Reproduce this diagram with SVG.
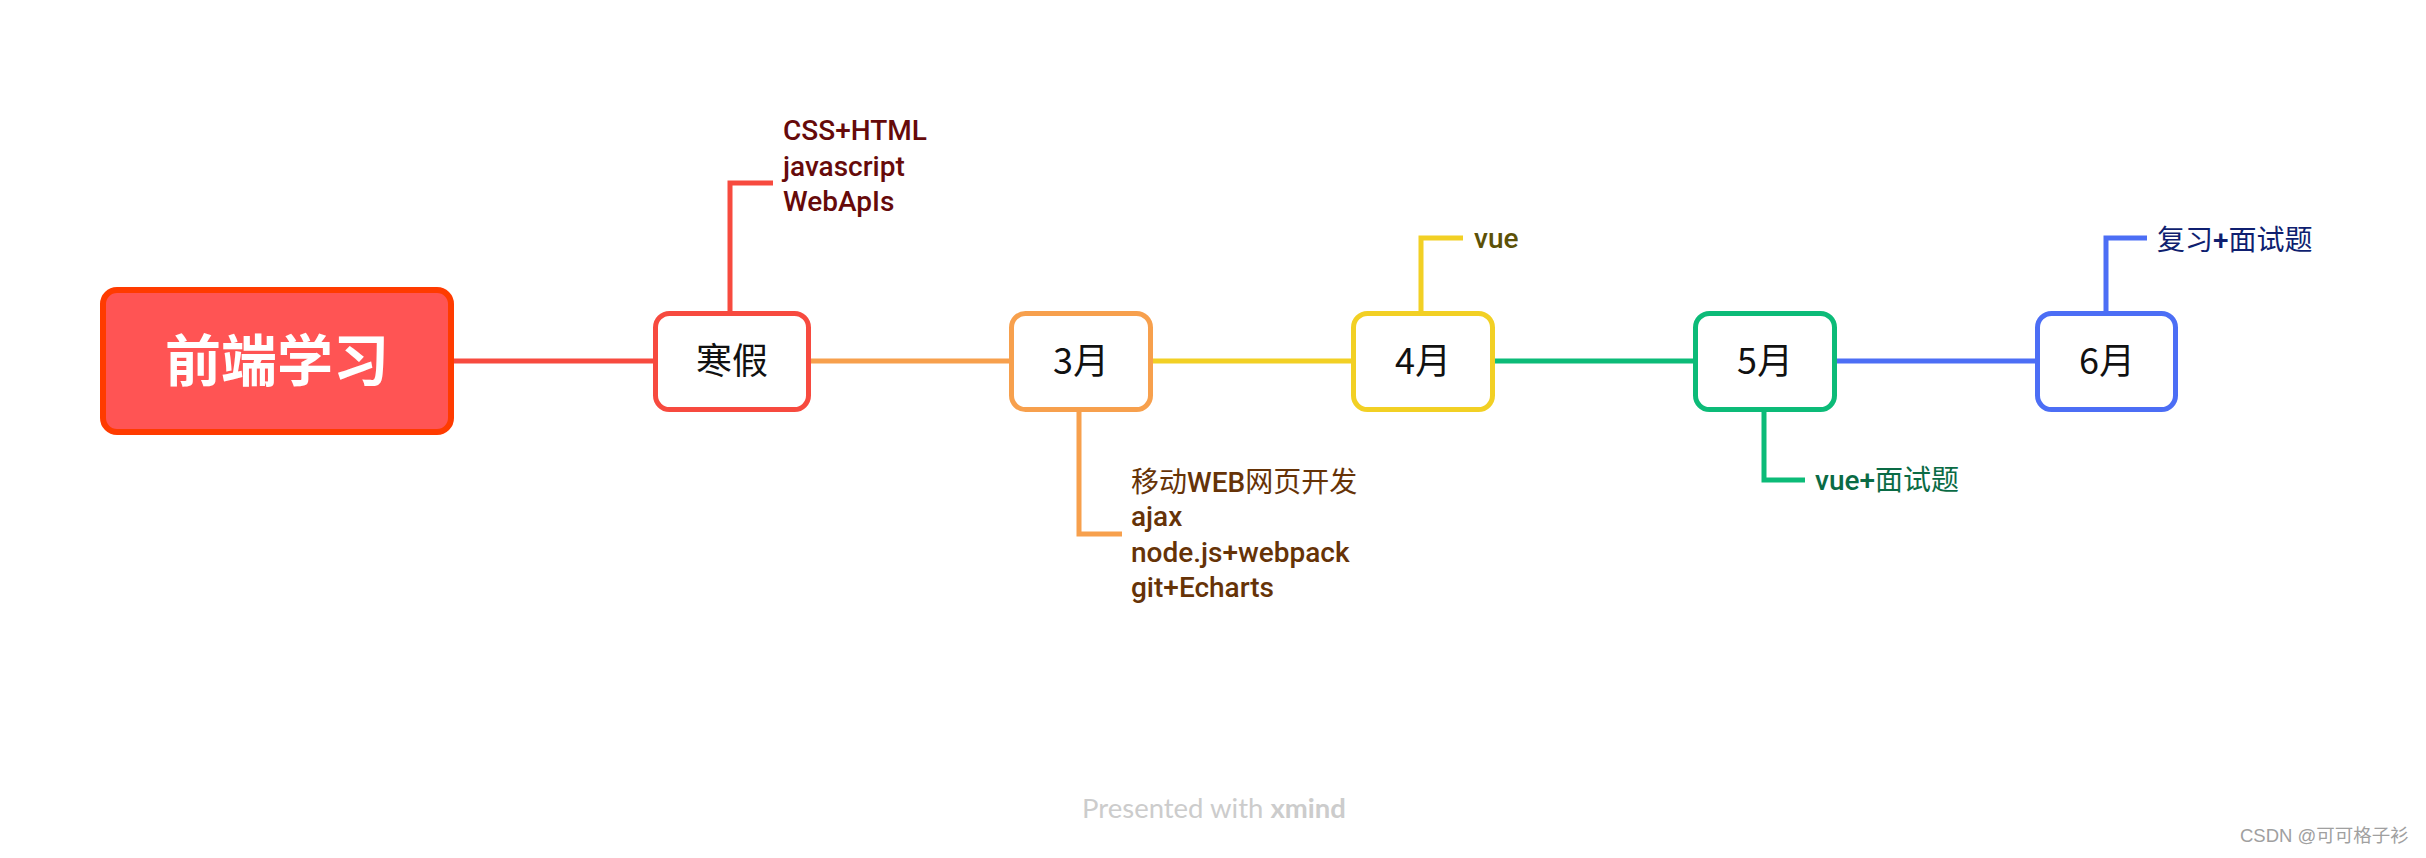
<svg xmlns="http://www.w3.org/2000/svg" width="2426" height="858" viewBox="0 0 2426 858">
<style>
.node{fill:#ffffff;stroke-width:5}
.lbl{font-family:"Noto Sans CJK SC","Roboto",sans-serif;font-size:36px;fill:#111111;text-anchor:middle}
.br{font-family:"Roboto","Noto Sans CJK SC",sans-serif;font-size:28px;font-weight:500}
.cjk{font-weight:400}
.ln{fill:none;stroke-width:5;stroke-linejoin:miter}
</style>
<rect width="2426" height="858" fill="#ffffff"/>
<g id="connectors">
<line class="ln" x1="452" y1="361" x2="655" y2="361" stroke="#F74A3F"/>
<line class="ln" x1="809" y1="361" x2="1011" y2="361" stroke="#F7A04D"/>
<line class="ln" x1="1151" y1="361" x2="1353" y2="361" stroke="#F2D024"/>
<line class="ln" x1="1493" y1="361" x2="1695" y2="361" stroke="#0CBB78"/>
<line class="ln" x1="1835" y1="361" x2="2037" y2="361" stroke="#4C6EF5"/>
<polyline class="ln" points="730,312 730,183 773,183" stroke="#F74A3F"/>
<polyline class="ln" points="1079,411 1079,534 1122,534" stroke="#F7A04D"/>
<polyline class="ln" points="1421,312 1421,238 1463,238" stroke="#F2D024"/>
<polyline class="ln" points="1764,411 1764,480 1805,480" stroke="#0CBB78"/>
<polyline class="ln" points="2106,312 2106,238 2147,238" stroke="#4C6EF5"/>
</g>
<g id="root">
<rect x="103" y="290" width="348" height="142" rx="14" fill="#FF5454" stroke="#FF3B00" stroke-width="6"/>
<text x="277" y="381" font-family="Noto Sans CJK SC,sans-serif" font-size="56" font-weight="700" fill="#ffffff" text-anchor="middle">前端学习</text>
</g>
<g id="n-hanjia">
<rect class="node" x="655.5" y="313.5" width="153" height="96" rx="14" stroke="#F74A3F"/>
<text class="lbl" x="732" y="374">寒假</text>
</g>
<g id="n-hanjia-sub">
<text class="br" fill="#660A0A"><tspan x="783" y="140">CSS+HTML</tspan><tspan x="783" y="176">javascript</tspan><tspan x="783" y="211">WebApIs</tspan></text>
</g>
<g id="n-mar">
<rect class="node" x="1011.5" y="313.5" width="139" height="96" rx="14" stroke="#F7A04D"/>
<text class="lbl" x="1081" y="374">3月</text>
</g>
<g id="n-mar-sub">
<text class="br" fill="#663307"><tspan x="1131" y="492"><tspan class="cjk">移动</tspan>WEB<tspan class="cjk">网页开发</tspan></tspan><tspan x="1131" y="526">ajax</tspan><tspan x="1131" y="562">node.js+webpack</tspan><tspan x="1131" y="597">git+Echarts</tspan></text>
</g>
<g id="n-apr">
<rect class="node" x="1353.5" y="313.5" width="139" height="96" rx="14" stroke="#F2D024"/>
<text class="lbl" x="1423" y="374">4月</text>
</g>
<g id="n-apr-sub">
<text class="br" fill="#5C5107" x="1474" y="248">vue</text>
</g>
<g id="n-may">
<rect class="node" x="1695.5" y="313.5" width="139" height="96" rx="14" stroke="#0CBB78"/>
<text class="lbl" x="1765" y="374">5月</text>
</g>
<g id="n-may-sub">
<text class="br" fill="#0A6B45" x="1815" y="490">vue+<tspan class="cjk">面试题</tspan></text>
</g>
<g id="n-jun">
<rect class="node" x="2037.5" y="313.5" width="138" height="96" rx="14" stroke="#4C6EF5"/>
<text class="lbl" x="2107" y="374">6月</text>
</g>
<g id="n-jun-sub">
<text class="br" fill="#0F1F70" x="2157" y="250"><tspan class="cjk">复习</tspan>+<tspan class="cjk">面试题</tspan></text>
</g>
<g id="watermarks">
<text x="1082" y="818" font-family="Lato,sans-serif" font-size="27.5" fill="#CCCCCC">Presented with <tspan font-weight="700">xmind</tspan></text>
<text x="2240" y="842" font-family="Liberation Sans,Noto Sans CJK SC,sans-serif" font-size="18.5" fill="#A0A0A0">CSDN @可可格子衫</text>
</g>
</svg>
